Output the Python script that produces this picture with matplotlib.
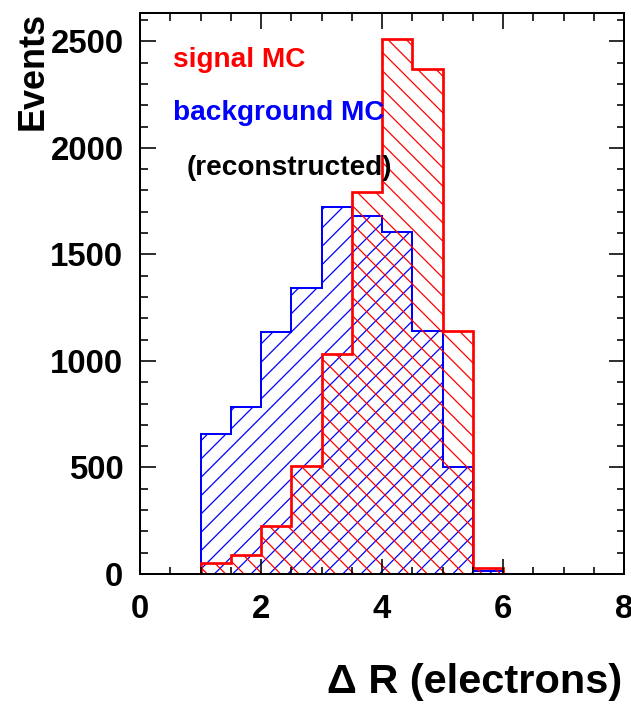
import numpy as np
import matplotlib
matplotlib.use('Agg')
import matplotlib.pyplot as plt
from matplotlib.ticker import MultipleLocator

# bin edges and contents (Delta R, 0.5 wide bins)
edges = np.arange(0, 8.5, 0.5)
signal = [0, 0, 50, 90, 223, 505, 1031, 1791, 2510, 2372, 1141, 28, 0, 0, 0, 0]
background = [0, 0, 658, 786, 1134, 1341, 1724, 1681, 1606, 1140, 500, 12, 0, 0, 0, 0]

# dpi chosen so that the hatch spacing is close to the original
dpi = 110


def px(v):
    # pixels -> points
    return v * 72 / dpi


plt.rcParams['font.family'] = ['Liberation Sans', 'DejaVu Sans']
plt.rcParams['font.weight'] = 'bold'
plt.rcParams['hatch.linewidth'] = px(1.25)

fig = plt.figure(figsize=(631 / dpi, 706 / dpi), dpi=dpi)
ax = fig.add_axes([140 / 631, 1 - 574 / 706, 484 / 631, 561 / 706])

ax.stairs(background, edges, fill=True, facecolor='none', edgecolor='blue',
          hatch='//', linewidth=px(2))
ax.stairs(signal, edges, fill=True, facecolor='none', edgecolor='red',
          hatch='\\\\', linewidth=px(2.7))

ax.set_xlim(0, 8)
ax.set_ylim(0, 2633)

ax.xaxis.set_major_locator(MultipleLocator(2))
ax.xaxis.set_minor_locator(MultipleLocator(0.5))
ax.yaxis.set_major_locator(MultipleLocator(500))
ax.yaxis.set_minor_locator(MultipleLocator(100))
ax.tick_params(which='both', direction='in', top=True, right=True, width=px(1.6))
ax.tick_params(which='major', length=px(15.5))
ax.tick_params(which='minor', length=px(7.5))
ax.tick_params(axis='y', which='major', pad=px(16.5), labelsize=px(33))
ax.tick_params(axis='x', which='major', pad=px(20), labelsize=px(33))
for s in ax.spines.values():
    s.set_linewidth(px(2))

# labels in the style of the ROOT canvas
ax.text(0.545, 2380, 'signal MC', color='red', fontsize=px(28), va='baseline')
ax.text(0.545, 2130, 'background MC', color='blue', fontsize=px(28), va='baseline')
ax.text(0.77, 1872, '(reconstructed)', color='black', fontsize=px(28), va='baseline')

fig.text(622 / 631, 13 / 706, '\u0394 R (electrons)', fontsize=px(41.5),
         ha='right', va='baseline')
fig.text(51 / 631, 1 - 12 / 706, 'Events', fontsize=px(36), rotation=90,
         ha='right', va='top')

fig.savefig('out.png', dpi=dpi)
